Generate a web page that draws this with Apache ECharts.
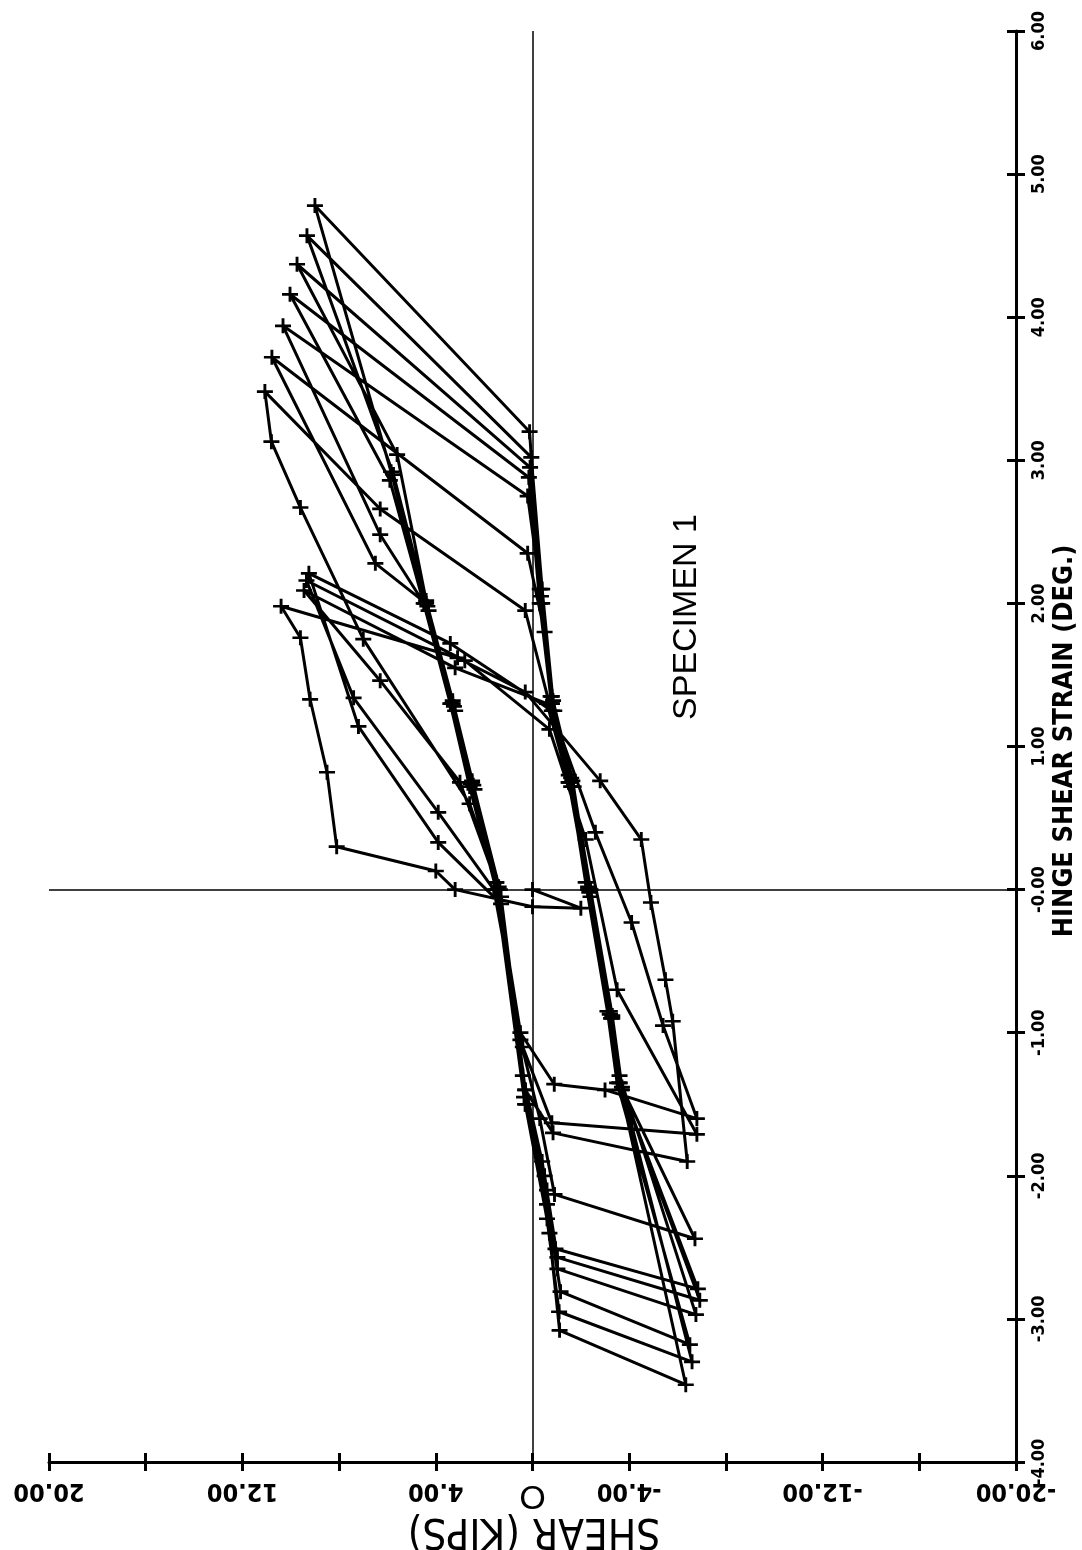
<!DOCTYPE html>
<html>
<head>
<meta charset="utf-8">
<script src="https://cdn.jsdelivr.net/npm/echarts@6/dist/echarts.min.js"></script>
<style>
html,body{margin:0;padding:0;background:#fff;}
#chart{width:1082px;height:1550px;}
</style>
</head>
<body>
<div id="chart"></div>
<script>
// Tick labels
const shearTickLabels = {"20":"20.00","12":"12.00","4":"4.00","0":"O","-4":"-4.00","-12":"-12.00","-20":"-20.00"};
const strainTickLabels = ["-4.00","-3.00","-2.00","-1.00","-0.00","1.00","2.00","3.00","4.00","5.00","6.00"];

// Data points: [shear (kips), hinge shear strain (deg)]
const virginLoading = [[0,0],[-2.0,-0.13],[0.0,-0.12],[3.2,0.0],[4.0,0.13],[8.1,0.30],[8.5,0.82],[9.2,1.33],[9.6,1.76],[10.4,1.98]];
const cycle1 = [[3.1,1.62],[0.3,1.38],[-2.8,0.76],[-4.5,0.35],[-4.9,-0.09],[-5.5,-0.63],[-5.8,-0.92],[-6.4,-1.90],[-0.85,-1.70],[0.3,-1.40],[1.3,-0.10],[3.9,0.33],[7.2,1.14],[9.25,2.21]];
const cycle2 = [[3.4,1.72],[-0.8,1.25],[-2.6,0.40],[-4.1,-0.23],[-5.4,-0.95],[-6.8,-1.60],[-3.0,-1.40],[-0.9,-1.36],[0.5,-1.00],[1.6,0.00],[3.9,0.54],[7.4,1.34],[9.35,2.16]];
const cycle3 = [[2.8,1.60],[-0.7,1.12],[-2.2,0.35],[-3.5,-0.70],[-6.8,-1.71],[-0.8,-1.63],[0.4,-1.10],[1.5,0.05],[3.0,0.75],[6.3,1.46],[9.45,2.09]];
const cycle4 = [[3.2,1.55],[-0.6,1.30],[-1.5,0.75],[-2.3,0.0],[-3.2,-0.87],[-3.6,-1.35],[-6.72,-2.44],[-0.91,-2.13],[-0.3,-1.60],[0.5,-1.05],[1.5,0.05],[2.6,0.60],[7.0,1.75],[9.6,2.67],[10.8,3.13],[11.07,3.48]];
const cycleL1 = [[6.3,2.66],[0.3,1.95],[-0.7,1.30],[-1.5,0.75],[-2.3,0.0],[-3.2,-0.87],[-3.6,-1.35],[-6.84,-2.79],[-0.95,-2.51],[-0.4,-1.90],[0.4,-1.30],[1.4,0.0],[2.5,0.75],[3.3,1.30],[4.4,2.00],[6.5,2.28],[10.78,3.72]];
const cycleL2 = [[0.2,2.35],[-0.5,1.80],[-0.9,1.25],[-1.7,0.72],[-2.4,-0.05],[-3.3,-0.90],[-3.7,-1.40],[-6.92,-2.87],[-1.03,-2.57],[-0.5,-2.00],[0.3,-1.40],[1.3,-0.05],[2.4,0.70],[3.2,1.25],[4.3,1.95],[6.3,2.48],[10.32,3.94]];
const cycleL3 = [[0.2,2.75],[-0.4,2.00],[-0.8,1.30],[-1.6,0.78],[-2.3,0.02],[-3.2,-0.85],[-3.6,-1.30],[-6.76,-2.97],[-1.03,-2.65],[-0.6,-2.10],[0.35,-1.45],[1.5,0.0],[2.6,0.72],[3.4,1.30],[4.5,2.00],[5.9,2.86],[10.03,4.16]];
const cycleL4 = [[0.15,2.88],[-0.3,2.00],[-0.75,1.35],[-1.5,0.80],[-2.2,0.05],[-3.1,-0.85],[-3.5,-1.35],[-6.51,-3.18],[-1.16,-2.81],[-0.6,-2.20],[0.3,-1.50],[1.4,0.02],[2.5,0.76],[3.3,1.32],[4.4,2.02],[5.6,3.04],[9.74,4.37]];
const cycleL5 = [[0.1,2.95],[-0.35,2.05],[-0.8,1.30],[-1.6,0.72],[-2.35,-0.02],[-3.25,-0.90],[-3.65,-1.40],[-6.34,-3.46],[-1.12,-3.08],[-0.7,-2.40],[0.25,-1.50],[1.35,0.0],[2.45,0.73],[3.25,1.28],[4.35,1.98],[5.75,2.90],[9.33,4.57]];
const cycleL6 = [[0.05,3.02],[-0.4,2.10],[-0.85,1.32],[-1.65,0.76],[-2.4,0.0],[-3.3,-0.88],[-3.7,-1.38],[-6.6,-3.30],[-1.1,-2.95],[-0.6,-2.30],[0.3,-1.50],[1.45,0.0],[2.55,0.74],[3.35,1.30],[4.45,2.00],[5.85,2.92],[9.0,4.78]];
const cycleL7 = [[0.12,3.20],[-0.3,2.10],[-0.8,1.35]];

const allPoints = [].concat(virginLoading, cycle1, cycle2, cycle3, cycle4, cycleL1, cycleL2, cycleL3, cycleL4, cycleL5, cycleL6, cycleL7);

const labelFont = "'DejaVu Sans Condensed','Liberation Sans Narrow','Liberation Sans',sans-serif";
const plusSymbol = 'path://M0,4.1H10V5.9H0Z M4.1,0H5.9V10H4.1Z';

const chart = echarts.init(document.getElementById('chart'));
const baseX = {type:'value', min:-20, max:20, interval:4, inverse:true, position:'bottom', splitLine:{show:false}};
const baseY = {type:'value', min:-4, max:6, interval:1, position:'right', splitLine:{show:false}};
chart.setOption({
  animation:false,
  backgroundColor:'#fff',
  grid:{left:49, right:66, top:31, bottom:88, containLabel:false},
  xAxis:[
    Object.assign({}, baseX, {
      axisLine:{show:true, onZero:false, lineStyle:{color:'#000', width:3}},
      axisTick:{show:true, inside:false, length:9, lineStyle:{color:'#000', width:3}},
      axisLabel:{show:true, rotate:180, margin:16, color:'#000', fontFamily:labelFont, fontWeight:'bold', fontSize:25,
        formatter:function(v){ const k=String(Math.round(v)); if(k==='0') return '{o|O}'; return shearTickLabels[k]||''; },
        rich:{o:{fontSize:34, fontWeight:'normal', fontFamily:'Liberation Sans, sans-serif', color:'#000'}}}
    }),
    Object.assign({}, baseX, {
      axisLine:{show:false, onZero:false},
      axisTick:{show:true, inside:true, length:9, lineStyle:{color:'#000', width:3}},
      axisLabel:{show:false}
    })
  ],
  yAxis:[
    Object.assign({}, baseY, {
      axisLine:{show:true, onZero:false, lineStyle:{color:'#000', width:3}},
      axisTick:{show:true, inside:false, length:9, lineStyle:{color:'#000', width:3}},
      axisLabel:{show:true, rotate:90, margin:14, color:'#000', fontFamily:labelFont, fontWeight:'bold', fontSize:18,
        formatter:function(v){ return strainTickLabels[Math.round(v)+4]||''; }}
    }),
    Object.assign({}, baseY, {
      axisLine:{show:false, onZero:false},
      axisTick:{show:true, inside:true, length:9, lineStyle:{color:'#000', width:3}},
      axisLabel:{show:false}
    })
  ],
  series:[
    {
      type:'line', xAxisIndex:0, yAxisIndex:0,
      data:allPoints,
      showAllSymbol:true,
      symbol:plusSymbol, symbolSize:[16,15],
      itemStyle:{color:'#000'},
      lineStyle:{color:'#000', width:3},
      silent:true,
      markLine:{
        silent:true, symbol:'none', animation:false,
        label:{show:false},
        lineStyle:{color:'#000', width:1.5, type:'solid'},
        data:[{xAxis:0},{yAxis:0}]
      },
      z:3
    }
  ],
  graphic:[
    {type:'text', x:534, y:1530, rotation:Math.PI,
      style:{text:'SHEAR (KIPS)', fill:'#000', font:"42px 'Liberation Sans Narrow','DejaVu Sans Condensed','Liberation Sans',sans-serif", align:'center', verticalAlign:'middle'}},
    {type:'text', x:1065, y:741, rotation:Math.PI/2,
      style:{text:'HINGE SHEAR STRAIN (DEG.)', fill:'#000', font:"bold 27px 'DejaVu Sans Condensed','Liberation Sans Narrow','Liberation Sans',sans-serif", align:'center', verticalAlign:'middle'}},
    {type:'text', x:687, y:617, rotation:Math.PI/2,
      style:{text:'SPECIMEN 1', fill:'#000', font:"34px 'Liberation Sans','Arial',sans-serif", align:'center', verticalAlign:'middle'}}
  ]
});
</script>
</body>
</html>
